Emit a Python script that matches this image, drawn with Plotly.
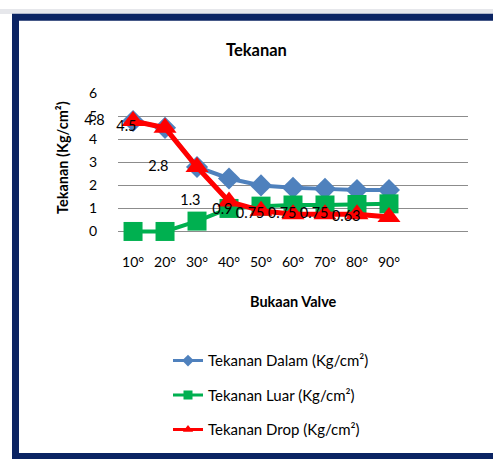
import plotly.graph_objs as go

W, H = 493, 459

bukaan = ["10°", "20°", "30°", "40°", "50°", "60°", "70°", "80°", "90°"]
tekanan_dalam = [4.8, 4.5, 2.8, 2.3, 2.0, 1.9, 1.85, 1.8, 1.8]
tekanan_luar = [0, 0, 0.45, 1.0, 1.1, 1.15, 1.15, 1.17, 1.2]
tekanan_drop = [4.8, 4.5, 2.8, 1.3, 0.9, 0.75, 0.75, 0.75, 0.63]
label_drop = ["4.8", "4.5", "2.8", "1.3", "0.9", "0.75", "0.75", "0.75", "0.63"]
y_ticks = [0, 1, 2, 3, 4, 5, 6]

FONT = "Lato"


def px(x):
    return x / W


def py(y):
    return 1 - y / H


series = [
    ("Tekanan Dalam (Kg/cm²)", tekanan_dalam, '#4F81BD', 'diamond', 17, 4),
    ("Tekanan Luar (Kg/cm²)", tekanan_luar, '#00B050', 'square', 19, 4),
    ("Tekanan Drop (Kg/cm²)", tekanan_drop, '#FF0000', 'triangle-up', 20, 5),
]

fig = go.Figure()
for name, vals, color, symbol, size, width in series:
    fig.add_trace(go.Scatter(x=bukaan, y=vals, mode='lines+markers', name=name,
                             showlegend=False,
                             line=dict(color=color, width=width),
                             marker=dict(symbol=symbol, size=size, color=color),
                             cliponaxis=False))

# data labels of the drop series (left of the points)
fig.add_trace(go.Scatter(x=bukaan, y=tekanan_drop, mode='markers+text',
                         text=label_drop, textposition='middle left',
                         textfont=dict(family=FONT, size=14.5, color='black'),
                         marker=dict(size=44, color='rgba(0,0,0,0)'),
                         showlegend=False, hoverinfo='skip', cliponaxis=False))

# legend entries with small symbols
for i, (name, vals, color, symbol, size, width) in enumerate(series):
    fig.add_trace(go.Scatter(x=[None], y=[None], mode='lines+markers', name=name,
                             legendgroup=str(i),
                             line=dict(color=color, width=3),
                             marker=dict(symbol=symbol, size=9, color=color)))

fig.update_layout(
    width=W, height=H,
    margin=dict(l=0, r=0, t=0, b=0),
    paper_bgcolor='white', plot_bgcolor='white',
    font=dict(family=FONT, size=14, color='black'),
    showlegend=True,
    legend=dict(x=px(168), y=py(342), xanchor='left', yanchor='top',
                tracegroupgap=12, font=dict(size=15), bgcolor='rgba(0,0,0,0)'),
    xaxis=dict(domain=[px(118), px(468)], range=[-0.47, 10.47],
               showgrid=False, zeroline=False, showline=False, ticks='',
               tickfont=dict(size=14), ticklabelstandoff=3),
    yaxis=dict(domain=[py(245), py(86)], range=[-0.77, 6],
               tickvals=y_ticks, showgrid=True, gridcolor='#8C8C8C', gridwidth=1,
               zeroline=False, showline=False, ticks='',
               tickfont=dict(size=14), ticklabelstandoff=20),
    annotations=[
        dict(text="<b>Tekanan</b>", x=px(256), y=py(42), xref='paper', yref='paper',
             xanchor='center', yanchor='middle', showarrow=False, font=dict(size=16.5)),
        dict(text="<b>Tekanan (Kg/cm²)</b>", x=px(62), y=py(152), xref='paper', yref='paper',
             xanchor='center', yanchor='middle', showarrow=False, textangle=-90,
             font=dict(size=14.5)),
        dict(text="<b>Bukaan Valve</b>", x=px(293), y=py(298), xref='paper', yref='paper',
             xanchor='center', yanchor='middle', showarrow=False, font=dict(size=14.5)),
    ],
    shapes=[
        dict(type='rect', xref='paper', yref='paper', x0=0, x1=1, y0=py(5), y1=1,
             fillcolor='#E6E7EB', line=dict(width=0), layer='below'),
        dict(type='rect', xref='paper', yref='paper', x0=px(15.5), x1=px(510),
             y0=py(456.5), y1=py(8.5), line=dict(color='#0B2463', width=7),
             fillcolor='rgba(0,0,0,0)', layer='above'),
    ],
)

fig.write_html("out.html", config={'displayModeBar': False},
               post_script="document.body.style.margin='0';document.body.style.padding='0';"
                           "var gd=document.getElementById('{plot_id}');"
                           "gd.style.position='absolute';gd.style.top='0px';gd.style.left='0px';")
